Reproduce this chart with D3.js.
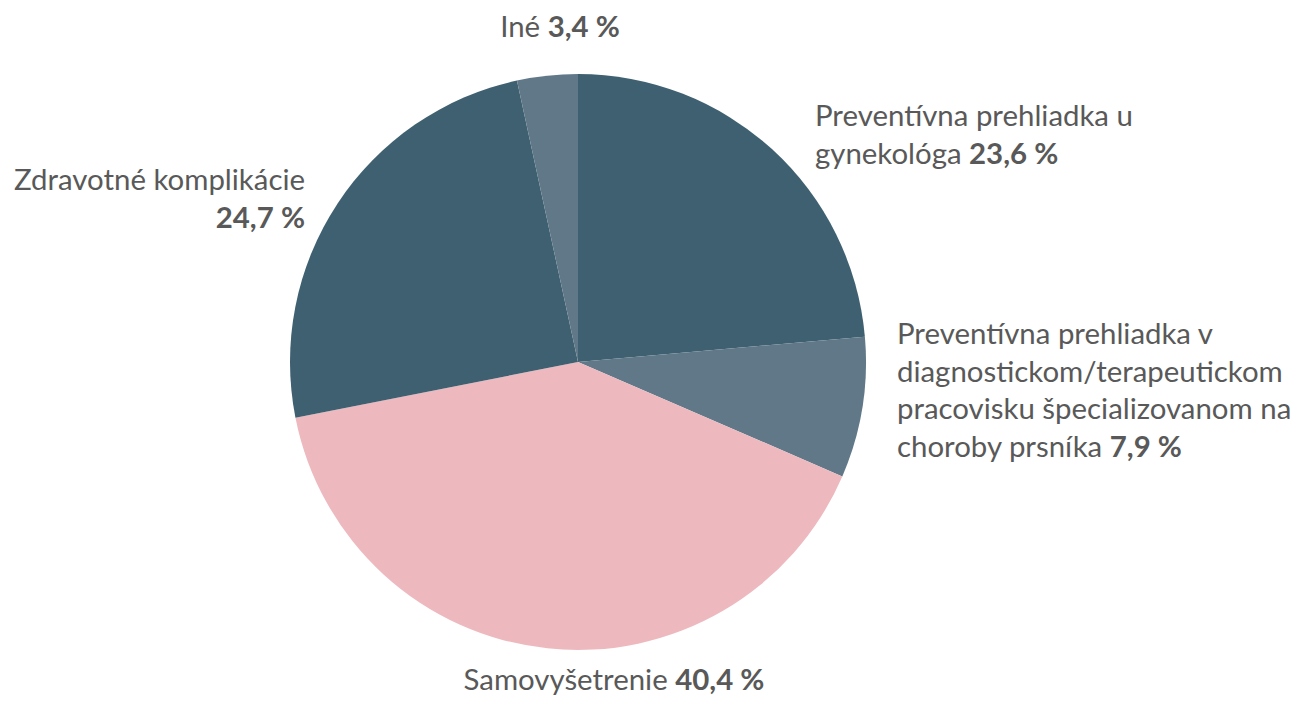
<!DOCTYPE html>
<html>
<head>
<meta charset="utf-8">
<script src="https://cdn.jsdelivr.net/npm/d3@7"></script>
<style>
  body { margin: 0; background: #fff; }
  text { font-family: Lato, "Open Sans", sans-serif; fill: #595959; }
</style>
</head>
<body>
<div id="chart"></div>
<script>
// data
var categories = ["Preventívna prehliadka u gynekológa",
	"Preventívna prehliadka v diagnostickom/terapeutickom pracovisku špecializovanom na choroby prsníka",
	"Samovyšetrenie", "Zdravotné komplikácie", "Iné"];
var values = [23.6, 7.9, 40.4, 24.7, 3.4];
var valueLabels = ["23,6 %", "7,9 %", "40,4 %", "24,7 %", "3,4 %"];
// label lines as printed (last line gets the bold value)
var labelLines = [
	["Preventívna prehliadka u", "gynekológa"],
	["Preventívna prehliadka v", "diagnostickom/terapeutickom", "pracovisku špecializovanom na", "choroby prsníka"],
	["Samovyšetrenie"],
	["Zdravotné komplikácie", ""],
	["Iné"]
];
var colors = ["#3e6070", "#607888", "#edb9be", "#3e6070", "#607888"];

// layout
var width = 1301, height = 701;
var cx = 578, cy = 362, radius = 288;
var fontSize = 29.4, lineH = 37.5;
// label anchor positions (x, first baseline, text-anchor)
var labelPos = [
	{x: 815, y: 126, a: "start"},
	{x: 897, y: 344, a: "start"},
	{x: 614, y: 690, a: "middle"},
	{x: 305, y: 190, a: "end"},
	{x: 560, y: 37, a: "middle"}
];

var svg = d3.select("#chart")
	.append("svg")
	.attr("width", width)
	.attr("height", height);

var pie = d3.pie()
	.sort(null)
	.value(function(d) { return d; });

var arc = d3.arc()
	.innerRadius(0)
	.outerRadius(radius);

var g = svg.append("g")
	.attr("transform", "translate(" + cx + "," + cy + ")");

g.selectAll("path")
	.data(pie(values))
	.enter()
	.append("path")
	.attr("d", arc)
	.attr("fill", function(d, i) { return colors[i]; });

// labels
labelLines.forEach(function(lines, i) {
	var p = labelPos[i];
	var t = svg.append("text")
		.attr("text-anchor", p.a)
		.attr("font-size", fontSize);
	lines.forEach(function(line, j) {
		var last = j === lines.length - 1;
		if (line !== "") {
			t.append("tspan")
				.attr("x", p.x)
				.attr("y", p.y + j * lineH)
				.text(last ? line + " " : line);
		}
		if (last) {
			var v = t.append("tspan")
				.attr("font-weight", "bold")
				.text(valueLabels[i]);
			if (line === "") v.attr("x", p.x).attr("y", p.y + j * lineH);
		}
	});
});
</script>
</body>
</html>
